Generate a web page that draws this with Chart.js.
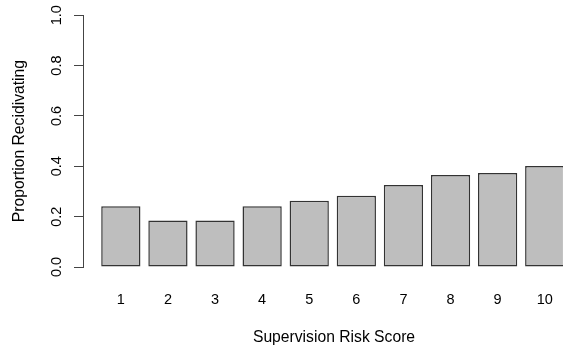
<!DOCTYPE html>
<html>
<head>
<meta charset="utf-8">
<script src="https://cdn.jsdelivr.net/npm/chart.js@4/dist/chart.umd.min.js"></script>
<style>
  html, body { margin: 0; padding: 0; background: #fff; }
  #wrap { position: relative; width: 563px; height: 351px; overflow: hidden; }
  /* the plot region runs past the right edge of the figure, as in the original */
  #inner { position: relative; width: 585px; height: 351px; }
</style>
</head>
<body>
<div id="wrap"><div id="inner"><canvas id="chart"></canvas></div></div>
<script>
const riskScores = ['1', '2', '3', '4', '5', '6', '7', '8', '9', '10'];
const proportionRecidivating = [0.241, 0.185, 0.185, 0.241, 0.263, 0.283, 0.326, 0.365, 0.373, 0.401];
const yTickValues = [0, 0.2, 0.4, 0.6, 0.8, 1.0];

// R barplot layout: bar width 1, space 0.2 -> centres at 0.7, 1.9, 3.1, ...
const barCentres = riskScores.map((_, i) => 0.7 + 1.2 * i);

Chart.defaults.font.family = '"Liberation Sans", Arial, Helvetica, sans-serif';
Chart.defaults.font.size = 14.5;
Chart.defaults.color = '#000';

const axisColor = '#444';
const titleFont = { size: 15.7 };

new Chart(document.getElementById('chart').getContext('2d'), {
    type: 'bar',
    data: {
        datasets: [{
            data: barCentres.map((x, i) => ({ x: x, y: proportionRecidivating[i] })),
            backgroundColor: '#bebebe',
            borderColor: '#333',
            borderWidth: 1.5,
            borderSkipped: false,
            categoryPercentage: 1,
            barPercentage: 1 / 1.2
        }]
    },
    options: {
        responsive: true,
        maintainAspectRatio: false,
        animation: false,
        layout: { padding: { top: 15, left: 0, right: 0, bottom: 0 } },
        plugins: {
            legend: { display: false },
            tooltip: { enabled: false }
        },
        scales: {
            x: {
                type: 'linear',
                offset: false,
                min: -0.264,
                max: 12.526,
                grid: { display: false, offset: false },
                border: { display: false },
                afterBuildTicks: scale => {
                    scale.ticks = barCentres.map(v => ({ value: v }));
                },
                afterFit: scale => {
                    scale.height = 84;
                    scale.paddingLeft = 0;
                    scale.paddingRight = 0;
                },
                ticks: {
                    autoSkip: false,
                    maxRotation: 0,
                    padding: 16,
                    callback: (value, index) => riskScores[index]
                },
                title: {
                    display: true,
                    text: 'Supervision Risk Score',
                    font: titleFont,
                    padding: { top: 0, bottom: 4 }
                }
            },
            y: {
                min: 0,
                max: 1,
                afterBuildTicks: scale => {
                    scale.ticks = yTickValues.map(v => ({ value: v }));
                },
                afterFit: scale => { scale.width = 83; },
                grid: {
                    drawOnChartArea: false,
                    drawTicks: true,
                    tickLength: 9,
                    color: axisColor
                },
                border: { display: true, color: axisColor },
                ticks: {
                    minRotation: 90,
                    maxRotation: 90,
                    crossAlign: 'center',
                    padding: 6.5,
                    callback: value => value.toFixed(1)
                },
                title: {
                    display: true,
                    text: 'Proportion Recidivating',
                    font: titleFont,
                    padding: { top: 10, bottom: 0 }
                }
            }
        }
    }
});
</script>
</body>
</html>
